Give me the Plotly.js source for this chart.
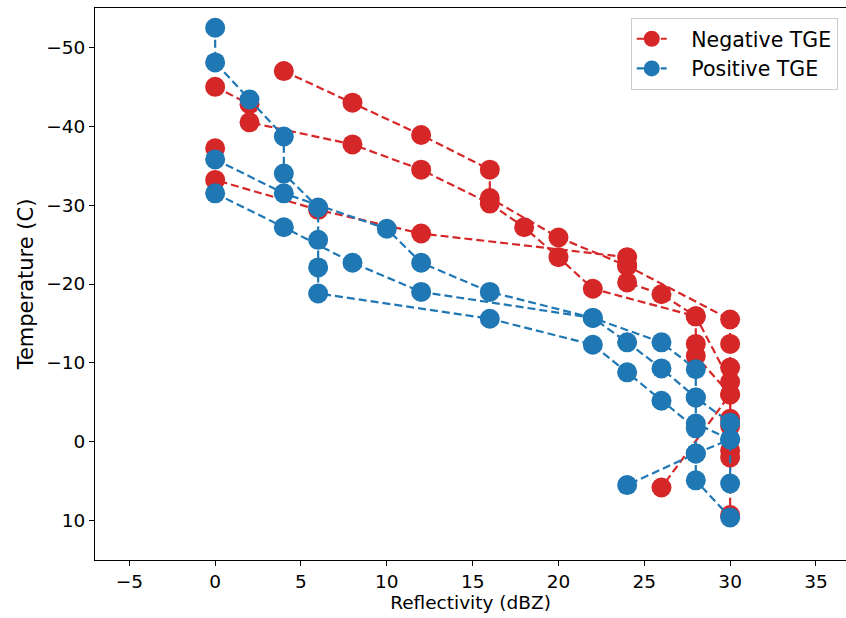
<!DOCTYPE html>
<html>
<head>
<meta charset="utf-8">
<script src="https://cdn.plot.ly/plotly-3.0.1.min.js"></script>
<style>html,body{margin:0;padding:0;background:#fff;}#chart{width:846px;height:618px;}</style>
</head>
<body>
<div id="chart"></div>
<script>
// Negative TGE profiles (reflectivity dBZ, temperature C)
const negZ1 = [4, 8, 12, 16, 16, 20, 24, 30, 30, 30, 30, 30, 30];
const negT1 = [-47, -43, -38.9, -34.5, -30.9, -25.9, -22.3, -15.5, -12.4, -9.4, -6, -2.9, 1.1];
const negZ2 = [0, 2, 2, 8, 12, 16, 18, 20, 22, 28, 28, 28, 30, 26];
const negT2 = [-45, -42.8, -40.5, -37.7, -34.5, -30.2, -27.2, -23.4, -19.4, -15.9, -12.4, -10.9, -6, 5.8];
const negZ3 = [0, 0, 6, 12, 24, 24, 24, 26, 28, 30, 30, 30, 30];
const negT3 = [-37.2, -33.2, -29.4, -26.4, -23.4, -22.3, -20.2, -18.7, -15.9, -7.6, -2, 2, 9.3];

// Positive TGE profiles
const posZ1 = [0, 0, 2, 4, 4, 6, 6, 6, 6, 16, 22, 24, 26, 28, 28, 28, 30];
const posT1 = [-52.5, -48.1, -43.4, -38.7, -34, -29.7, -25.6, -22.1, -18.8, -15.6, -12.3, -8.8, -5.2, -1.7, 1.5, 4.9, 9.6];
const posZ2 = [0, 4, 10, 12, 16, 22, 26, 28, 28, 30, 30, 28, 24];
const posT2 = [-35.8, -31.5, -27, -22.7, -19, -15.7, -12.6, -9.2, -5.6, -2.4, -0.3, 1.5, 5.5];
const posZ3 = [0, 4, 8, 12, 22, 24, 26, 28, 28, 30, 30];
const posT3 = [-31.5, -27.2, -22.7, -19, -15.7, -12.6, -9.3, -5.6, -2.3, -0.3, 5.3];

const seriesNames = ['Negative TGE', 'Positive TGE'];

const RED = '#d62728', BLUE = '#1f77b4';
const PAD = '\u00a0\u00a0\u00a0';
function prof(x, y, color, name, show) {
  return {
    x: x, y: y, type: 'scatter', mode: 'lines+markers',
    name: PAD + name, legendgroup: name, showlegend: show,
    line: {color: color, width: 2.2, dash: '8px,4px'},
    marker: {color: color, size: 20, line: {width: 0}}
  };
}
const data = [
  prof(negZ1, negT1, RED, seriesNames[0], true),
  prof(negZ2, negT2, RED, seriesNames[0], false),
  prof(negZ3, negT3, RED, seriesNames[0], false),
  prof(posZ1, posT1, BLUE, seriesNames[1], true),
  prof(posZ2, posT2, BLUE, seriesNames[1], false),
  prof(posZ3, posT3, BLUE, seriesNames[1], false)
];
const fam = 'DejaVu Sans, sans-serif';
const tickFont = {family: fam, size: 18.5, color: '#000'};
const layout = {
  width: 846, height: 618,
  margin: {l: 95, r: 0, t: 8, b: 58},
  paper_bgcolor: '#fff', plot_bgcolor: '#fff',
  font: tickFont,
  showlegend: true,
  legend: {x: 0.989, y: 0.982, xanchor: 'right', yanchor: 'top',
           bgcolor: 'rgba(255,255,255,0.8)', bordercolor: '#cccccc', borderwidth: 1,
           font: {family: fam, size: 20.5, color: '#000'}, tracegroupgap: 0},
  xaxis: {range: [-7, 36.75], tickmode: 'array', tickvals: [-5, 0, 5, 10, 15, 20, 25, 30, 35],
          ticks: 'outside', ticklen: 5, tickwidth: 1, tickcolor: '#000',
          showline: true, linecolor: '#000', linewidth: 1, mirror: true,
          showgrid: false, zeroline: false, tickfont: tickFont,
          title: {text: 'Reflectivity (dBZ)', font: {family: fam, size: 18.5, color: '#000'}, standoff: 4}},
  yaxis: {range: [15, -55], tickmode: 'array', tickvals: [-50, -40, -30, -20, -10, 0, 10],
          ticks: 'outside', ticklen: 5, tickwidth: 1, tickcolor: '#000',
          showline: true, linecolor: '#000', linewidth: 1, mirror: false,
          showgrid: false, zeroline: false, tickfont: tickFont,
          title: {text: 'Temperature (C)', font: {family: fam, size: 21, color: '#000'}, standoff: 6}}
};
Plotly.newPlot('chart', data, layout, {displayModeBar: false, staticPlot: true});
</script>
</body>
</html>
